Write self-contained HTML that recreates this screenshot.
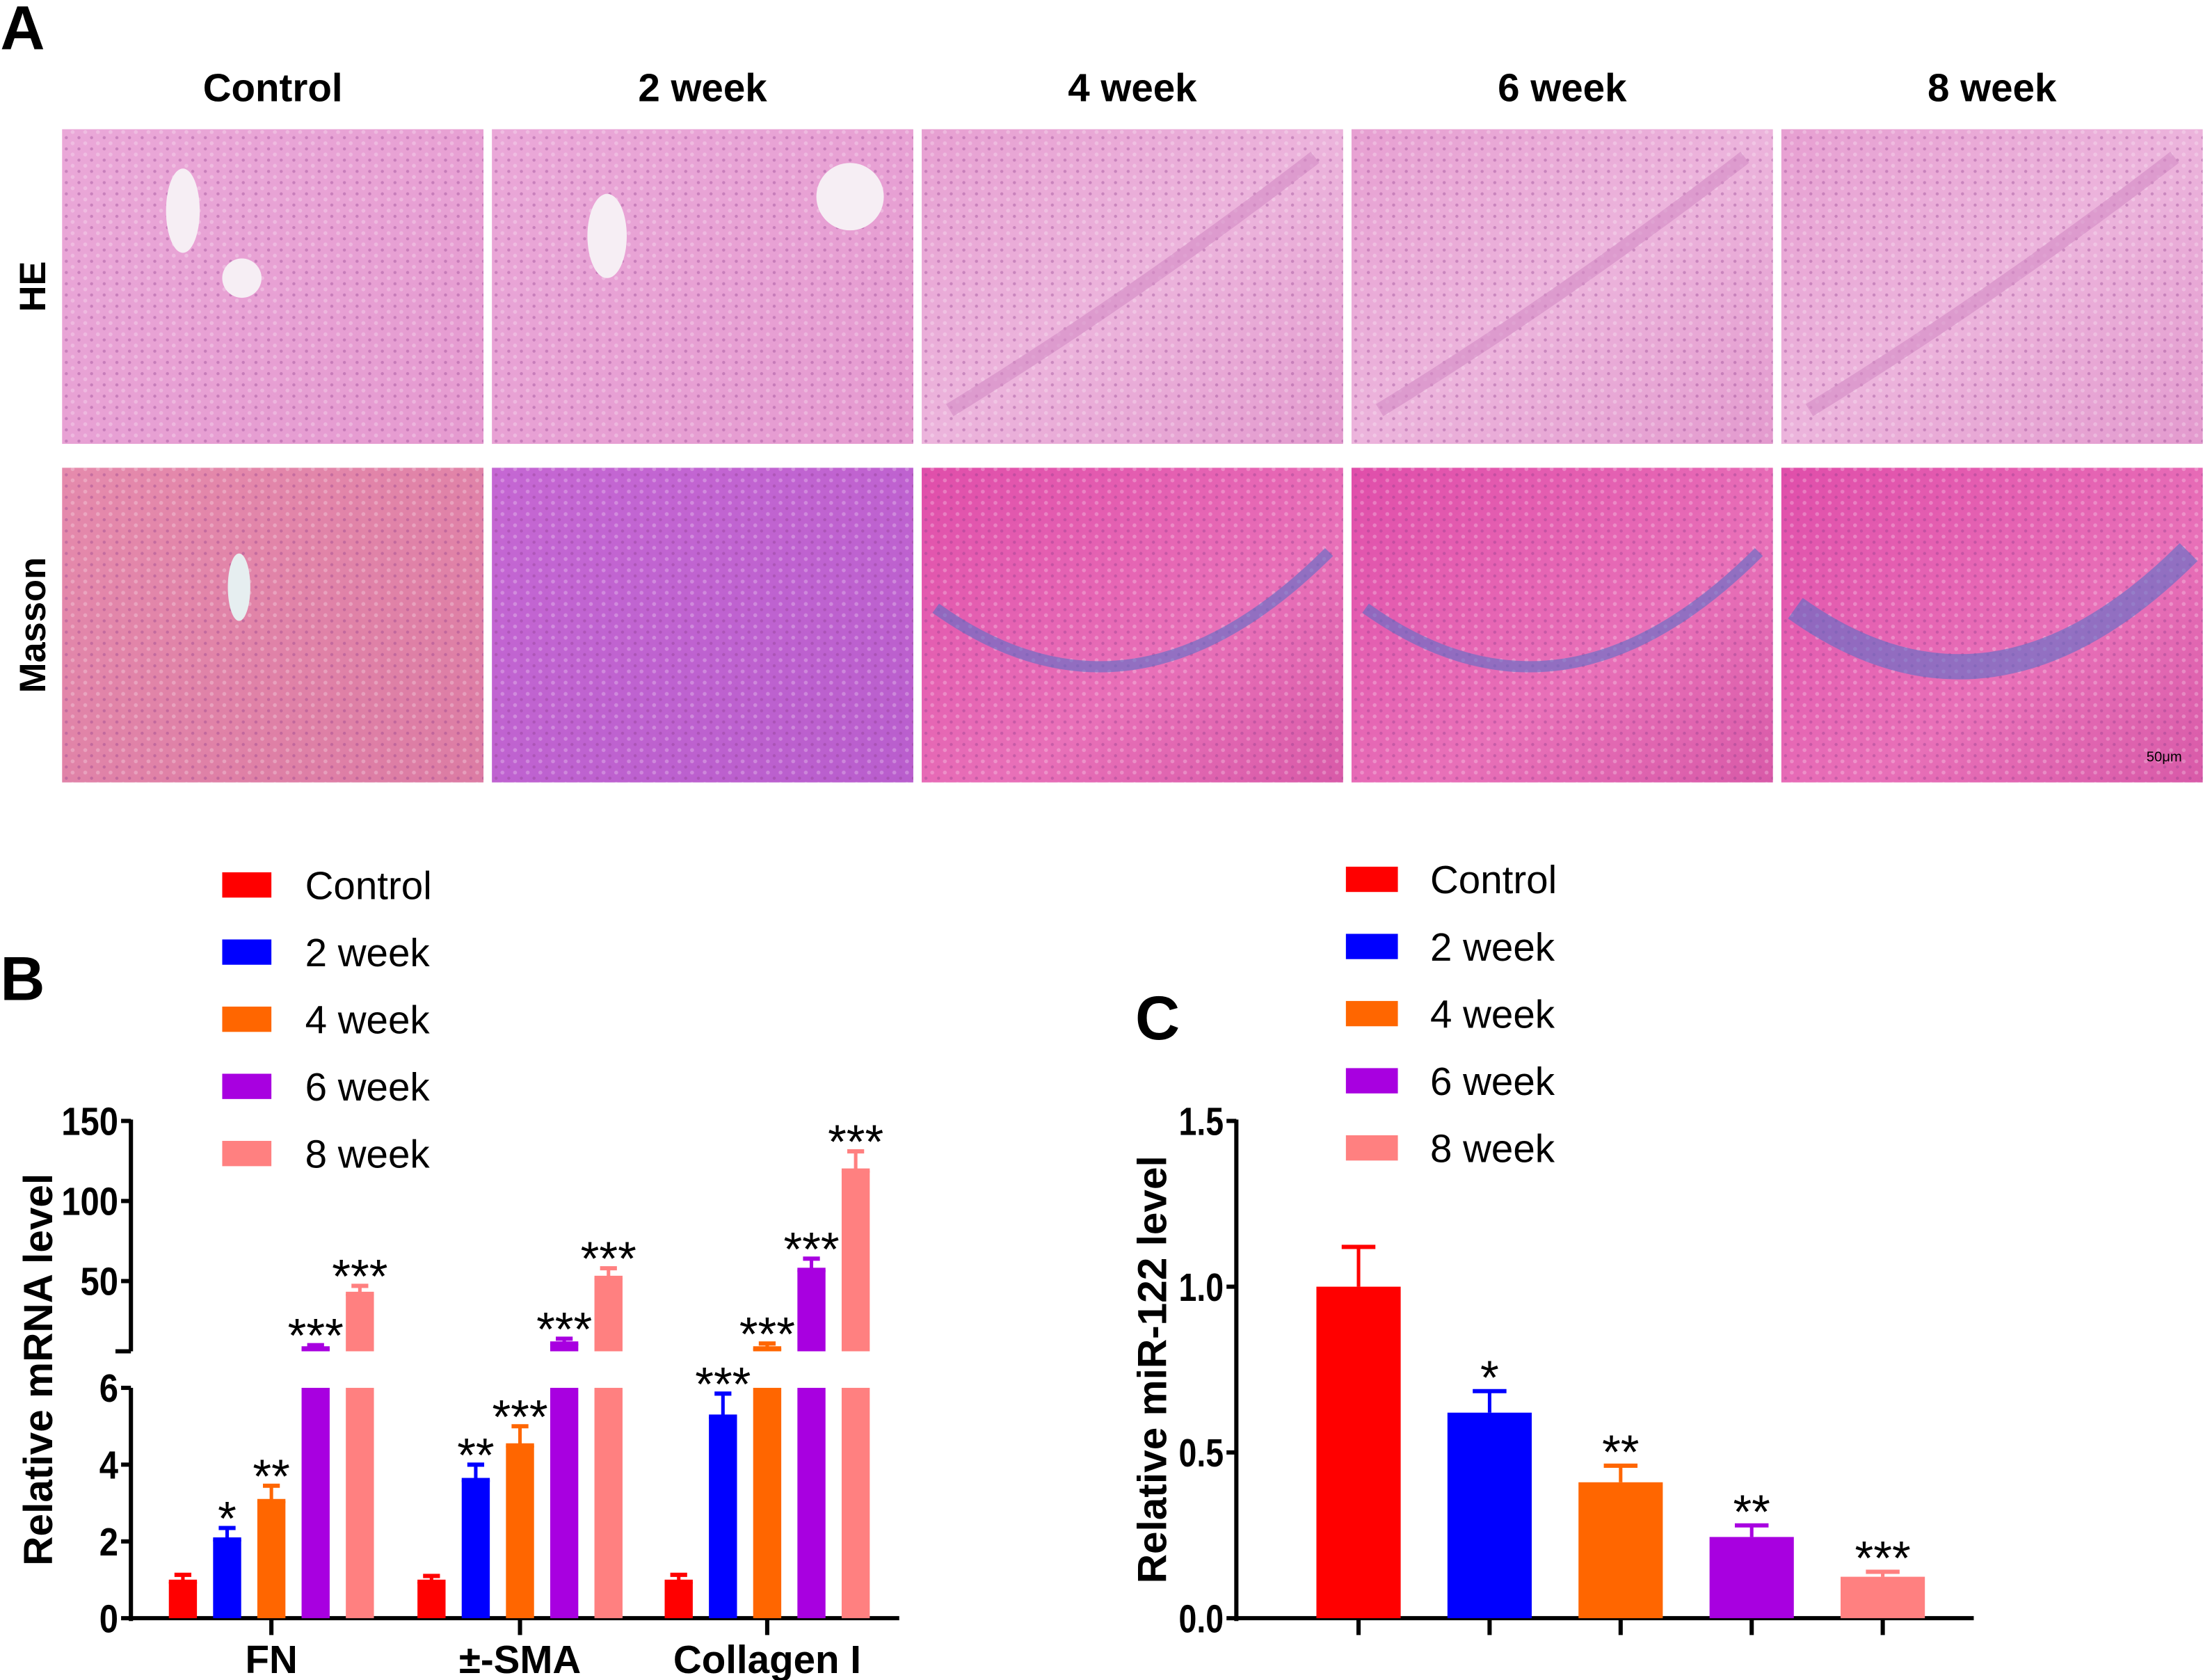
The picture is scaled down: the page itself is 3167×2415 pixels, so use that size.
<!DOCTYPE html>
<html><head><meta charset="utf-8"><style>
html,body{margin:0;padding:0;background:#fff}
svg{display:block}
text{font-family:"Liberation Sans",Arial,sans-serif}
</style></head><body>
<svg id="fig" width="3167" height="2415" viewBox="0 0 1568 1196" xmlns="http://www.w3.org/2000/svg">
<defs>
<linearGradient id="he1" x1="0" y1="0" x2="1" y2="1"><stop offset="0" stop-color="#eaa8d8"/><stop offset="1" stop-color="#e59ad0"/></linearGradient>
<linearGradient id="he2" x1="0" y1="0" x2="1" y2="1"><stop offset="0" stop-color="#e7a0d2"/><stop offset=".5" stop-color="#ecb4dc"/><stop offset="1" stop-color="#e39ace"/></linearGradient>
<linearGradient id="ms0" x1="0" y1="0" x2="1" y2="1"><stop offset="0" stop-color="#e58aac"/><stop offset="1" stop-color="#dc7ca4"/></linearGradient>
<linearGradient id="ms1" x1="0" y1="0" x2="1" y2="1"><stop offset="0" stop-color="#c567d3"/><stop offset="1" stop-color="#b95ecd"/></linearGradient>
<linearGradient id="ms2" x1="0" y1="0" x2="1" y2="1"><stop offset="0" stop-color="#e04eaa"/><stop offset=".6" stop-color="#e870b8"/><stop offset="1" stop-color="#d85aa8"/></linearGradient>
<pattern id="tex" width="9" height="8" patternUnits="userSpaceOnUse"><circle cx="2" cy="2" r="1.1" fill="#8a3a8a" opacity=".35"/><circle cx="6.5" cy="6" r="1.4" fill="#ffffff" opacity=".25"/></pattern>
</defs>
<g id="panelA"></g>
<g id="panelB"></g>
<g id="panelC"></g>
</svg>
<script>
const NS="http://www.w3.org/2000/svg";
// ---- data ----
const groupNames=["Control","2 week","4 week","6 week","8 week"];
const groupColors=["#ff0000","#0000ff","#ff6600","#a800e0","#ff8080"];
const bGenes=["FN","±-SMA","Collagen I"];
const bValues=[[0.95,2.05,3.05,8,42],[0.95,3.6,4.5,11,52],[0.95,5.25,8,57,119]];
const bErrors=[[0.18,0.3,0.4,2,5],[0.15,0.4,0.5,3,6],[0.18,0.6,3,7,12]];
const bStars=[["","*","**","***","***"],["","**","***","***","***"],["","***","***","***","***"]];
const bLowTicks=[0,2,4,6];
const bHighTicks=[50,100,150];
const cValues=[1.0,0.62,0.41,0.245,0.125];
const cErrors=[0.12,0.065,0.05,0.035,0.015];
const cStars=["","*","**","**","***"];
const cTicks=[0.0,0.5,1.0,1.5];

function mk(parent,tag,attrs,txt){const e=document.createElementNS(NS,tag);for(const k in attrs)e.setAttribute(k,attrs[k]);if(txt!==undefined)e.textContent=txt;parent.appendChild(e);return e;}

// ---- panel A ----
const A=document.getElementById('panelA');
let t=mk(A,'text',{x:0,y:35,'font-size':44,'font-weight':'bold'},'A');


const colX=[44,350,656,962,1268];
const heFill=['url(#he1)','url(#he1)','url(#he2)','url(#he2)','url(#he2)'];
const msFill=['url(#ms0)','url(#ms1)','url(#ms2)','url(#ms2)','url(#ms2)'];
groupNames.forEach((g,i)=>{
  let tt=mk(A,'text',{x:colX[i]+150,y:72,'font-size':28,'font-weight':'bold','text-anchor':'middle'},g);
  
  
  let r=mk(A,'rect',{x:colX[i],y:92,width:300,height:224,fill:heFill[i]});
  
  
  mk(A,'rect',{x:colX[i],y:92,width:300,height:224,fill:'url(#tex)'});
  let r2=mk(A,'rect',{x:colX[i],y:333,width:300,height:224,fill:msFill[i]});
  
  
  mk(A,'rect',{x:colX[i],y:333,width:300,height:224,fill:'url(#tex)'});
  if(i>=2){
    mk(A,'path',{d:`M${colX[i]+20} ${92+200} Q${colX[i]+150} ${92+120} ${colX[i]+280} ${92+20}`,stroke:'#d48ac4',
      'stroke-width':10,fill:'none',opacity:.6});
    mk(A,'path',{d:`M${colX[i]+10} ${333+100} Q${colX[i]+150} ${333+200} ${colX[i]+290} ${333+60}`,stroke:'#5a70c8',
      'stroke-width':i==4?18:8,fill:'none',opacity:.6});
  }
});
mk(A,'ellipse',{cx:130,cy:150,rx:12,ry:30,fill:'#f6eef4'});
mk(A,'circle',{cx:172,cy:198,r:14,fill:'#f6eef4'});
mk(A,'circle',{cx:605,cy:140,r:24,fill:'#f6eef4'});
mk(A,'ellipse',{cx:432,cy:168,rx:14,ry:30,fill:'#f6eef4'});
mk(A,'ellipse',{cx:170,cy:418,rx:8,ry:24,fill:'#e6eef0'});
let rl=mk(A,'text',{x:0,y:0,'font-size':26,'font-weight':'bold','text-anchor':'middle',transform:'translate(32,204) rotate(-90)'},'HE');


rl=mk(A,'text',{x:0,y:0,'font-size':26,'font-weight':'bold','text-anchor':'middle',transform:'translate(32,445) rotate(-90)'},'Masson');


let sb=mk(A,'text',{x:1528,y:542,'font-size':10},'50μm');



// ---- panel B ----
const B=document.getElementById('panelB');
const bx0=93, by0=1152;
const yLow=v=>by0-v*27.33;
const yHigh=v=>912-(v-50)*1.14;
const yB=v=>v<=6?yLow(v):yHigh(v);
t=mk(B,'text',{x:0,y:712,'font-size':44,'font-weight':'bold'},'B');


groupNames.forEach((g,i)=>{
  let s=mk(B,'rect',{x:158,y:621+i*47.8,width:35,height:18,fill:groupColors[i]});
  
  
  let l=mk(B,'text',{x:217,y:640+i*47.8,'font-size':28},g);
  
  
});
// axes
mk(B,'line',{x1:bx0,y1:988,x2:bx0,y2:by0+2,stroke:'#000','stroke-width':3});
mk(B,'line',{x1:bx0,y1:797,x2:bx0,y2:962,stroke:'#000','stroke-width':3});
mk(B,'line',{x1:82,y1:962,x2:bx0,y2:962,stroke:'#000','stroke-width':3});
mk(B,'line',{x1:bx0,y1:by0,x2:640,y2:by0,stroke:'#000','stroke-width':3});
function tickLabel(parent,x,y,str,name){
  let l=mk(parent,'text',{x:x,y:y,'font-size':28,'font-weight':'bold','text-anchor':'end',textLength:String(str.length*13.5),lengthAdjust:'spacingAndGlyphs'},str);
  
  
}
bLowTicks.forEach(v=>{
  mk(B,'line',{x1:86,y1:yLow(v),x2:bx0,y2:yLow(v),stroke:'#000','stroke-width':3});
  tickLabel(B,84,yLow(v)+10,String(v),'b-y-tick-'+v);
});
bHighTicks.forEach(v=>{
  mk(B,'line',{x1:86,y1:yHigh(v),x2:bx0,y2:yHigh(v),stroke:'#000','stroke-width':3});
  tickLabel(B,84,yHigh(v)+10,String(v),'b-y-tick-'+v);
});
let yt=mk(B,'text',{x:0,y:0,'font-size':29,'font-weight':'bold','text-anchor':'middle',transform:'translate(37,975) rotate(-90)'},'Relative mRNA level');


const gCenters=[193,370,546], bw=20, bstep=31.5;
bGenes.forEach((gn,gi)=>{
  mk(B,'line',{x1:gCenters[gi],y1:by0,x2:gCenters[gi],y2:by0+12,stroke:'#000','stroke-width':3});
  let l=mk(B,'text',{x:gCenters[gi],y:1191,'font-size':28,'font-weight':'bold','text-anchor':'middle'},gn);
  
  
  bValues[gi].forEach((v,i)=>{
    const cx=gCenters[gi]+(i-2)*bstep, col=groupColors[i];
    const lowTop=yLow(Math.min(v,6));
    let bar=mk(B,'rect',{x:cx-bw/2,y:lowTop,width:bw,height:by0-lowTop,fill:col});
    
    
    if(v>6){
      let ub=mk(B,'rect',{x:cx-bw/2,y:yHigh(v),width:bw,height:Math.max(2,962-yHigh(v)),fill:col});
      
      
    }
    const e=v+bErrors[gi][i], ye=yB(e), yv=yB(v);
    mk(B,'line',{x1:cx,y1:yv,x2:cx,y2:ye,stroke:col,'stroke-width':2.5});
    mk(B,'line',{x1:cx-6,y1:ye,x2:cx+6,y2:ye,stroke:col,'stroke-width':3});
    mk(B,'line',{x1:cx-bw/2,y1:yv,x2:cx+bw/2,y2:yv,stroke:col,'stroke-width':3});
    if(bStars[gi][i]){
      let s=mk(B,'text',{x:cx,y:ye+5,'font-size':34,'text-anchor':'middle'},bStars[gi][i]);
      
      
    }
  });
});

// ---- panel C ----
const C=document.getElementById('panelC');
const cx0=880, cy0=1152;
const yC=v=>cy0-v*236;
t=mk(C,'text',{x:808,y:740,'font-size':44,'font-weight':'bold'},'C');


groupNames.forEach((g,i)=>{
  let s=mk(C,'rect',{x:958,y:617+i*47.8,width:37,height:18,fill:groupColors[i]});
  
  
  let l=mk(C,'text',{x:1018,y:636+i*47.8,'font-size':28},g);
  
  
});
mk(C,'line',{x1:cx0,y1:797,x2:cx0,y2:cy0+2,stroke:'#000','stroke-width':3});
mk(C,'line',{x1:cx0,y1:cy0,x2:1405,y2:cy0,stroke:'#000','stroke-width':3});
cTicks.forEach(v=>{
  mk(C,'line',{x1:873,y1:yC(v),x2:cx0,y2:yC(v),stroke:'#000','stroke-width':3});
  let l=mk(C,'text',{x:871,y:yC(v)+10,'font-size':28,'font-weight':'bold','text-anchor':'end',textLength:'32',lengthAdjust:'spacingAndGlyphs'},v.toFixed(1));
  
  
});
yt=mk(C,'text',{x:0,y:0,'font-size':29,'font-weight':'bold','text-anchor':'middle',transform:'translate(830,975) rotate(-90)'},'Relative miR-122 level');


const cw=60, cstep=93.3, cfirst=967;
cValues.forEach((v,i)=>{
  const cx=cfirst+i*cstep, col=groupColors[i];
  mk(C,'line',{x1:cx,y1:cy0,x2:cx,y2:cy0+12,stroke:'#000','stroke-width':3});
  let bar=mk(C,'rect',{x:cx-cw/2,y:yC(v),width:cw,height:cy0-yC(v),fill:col});
  
  
  const ye=yC(v+cErrors[i]);
  mk(C,'line',{x1:cx,y1:yC(v),x2:cx,y2:ye,stroke:col,'stroke-width':2.5});
  mk(C,'line',{x1:cx-12,y1:ye,x2:cx+12,y2:ye,stroke:col,'stroke-width':3});
  if(cStars[i]){
    let s=mk(C,'text',{x:cx,y:ye+2,'font-size':34,'text-anchor':'middle'},cStars[i]);
    
    
  }
});
</script>
</body></html>
